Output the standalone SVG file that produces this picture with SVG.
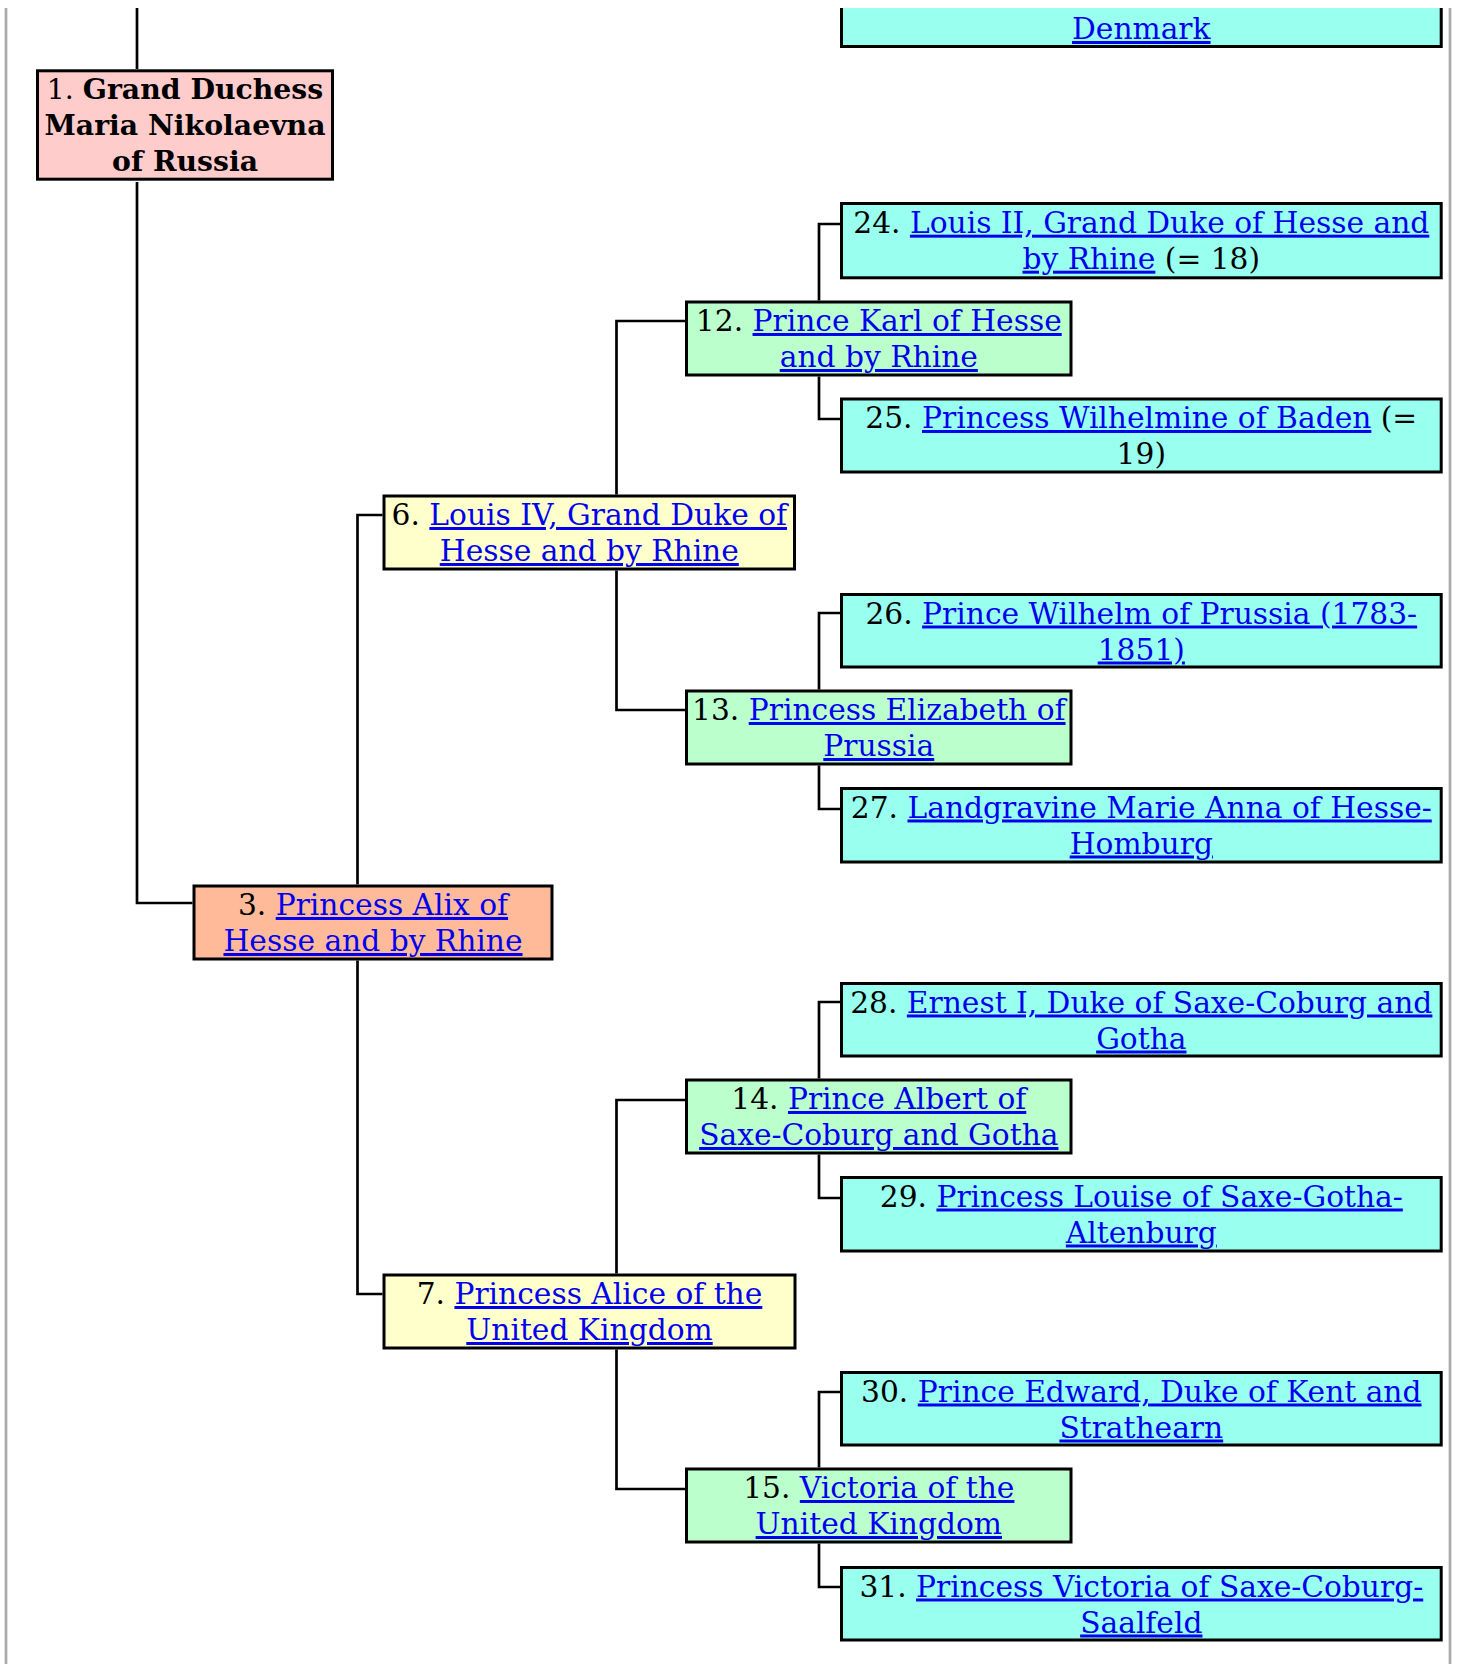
<svg xmlns="http://www.w3.org/2000/svg" width="1458" height="1664" viewBox="0 0 1458 1664">
<style>
.bx{stroke:#000;stroke-width:3}
.c1{fill:#fcc}.c2{fill:#fb9}.c3{fill:#ffc}.c4{fill:#bfc}.c5{fill:#9fe}
.t{font-family:"DejaVu Serif",serif;font-size:29.7px;text-anchor:middle;fill:#000}
.h{font-size:28.3px}
.a{fill:#0000ee;text-decoration:underline}
.b{font-weight:bold}
.ln{fill:none;stroke:#000;stroke-width:2.7}
.frame{stroke:#aaa;stroke-width:2.7}
</style>
<rect width="1458" height="1664" fill="#fff"/>
<line class="frame" x1="6" y1="8" x2="6" y2="1664"/>
<line class="frame" x1="1450" y1="8" x2="1450" y2="1664"/>
<g id="connectors">
<path class="ln" d="M137 8V69M137 182V903H192.5"/>
<path class="ln" d="M382.5 515H357.5V884.5M357.5 960.5V1294H382.5"/>
<path class="ln" d="M685 321H616.5V494.5M616.5 570.5V710H685"/>
<path class="ln" d="M685 1100H616.5V1273.5M616.5 1349.5V1489H685"/>
<path class="ln" d="M840 224H819V300.5M819 376.5V419H840"/>
<path class="ln" d="M840 613H819V689.5M819 765.5V809H840"/>
<path class="ln" d="M840 1002H819V1078.5M819 1154.5V1198H840"/>
<path class="ln" d="M840 1392H819V1467.5M819 1543.5V1587H840"/>
</g>
<g id="n23">
<rect class="c5" x="840" y="8" width="602.7" height="40"/>
<path class="ln" style="stroke-width:3" d="M841.5 8V46.5H1441.2V8"/>
<text class="t" x="1141.3" y="39"><tspan class="a">Denmark</tspan></text>
</g>
<g id="n1">
<rect class="bx c1" x="37.5" y="70.8" width="295" height="108.4"/>
<text class="t h" x="185" y="99.3">1. <tspan class="b">Grand Duchess</tspan></text>
<text class="t h b" x="185" y="135.3">Maria Nikolaevna</text>
<text class="t h b" x="185" y="171">of Russia</text>
</g>
<g id="n24">
<rect class="bx c5" x="841.5" y="203.5" width="599.7" height="74.3"/>
<text class="t" x="1141.3" y="232.7">24. <tspan class="a">Louis II, Grand Duke of Hesse and</tspan></text>
<text class="t" x="1141.3" y="268.7"><tspan class="a">by Rhine</tspan> (= 18)</text>
</g>
<g id="n12">
<rect class="bx c4" x="686.5" y="302" width="384.5" height="73"/>
<text class="t" x="878.8" y="331">12. <tspan class="a">Prince Karl of Hesse</tspan></text>
<text class="t" x="878.8" y="367"><tspan class="a">and by Rhine</tspan></text>
</g>
<g id="n25">
<rect class="bx c5" x="841.5" y="399" width="599.7" height="73"/>
<text class="t" x="1141.3" y="428">25. <tspan class="a">Princess Wilhelmine of Baden</tspan> (=</text>
<text class="t" x="1141.3" y="464">19)</text>
</g>
<g id="n6">
<rect class="bx c3" x="384" y="496" width="410.5" height="73"/>
<text class="t" x="589.3" y="525">6. <tspan class="a">Louis IV, Grand Duke of</tspan></text>
<text class="t" x="589.3" y="561"><tspan class="a">Hesse and by Rhine</tspan></text>
</g>
<g id="n26">
<rect class="bx c5" x="841.5" y="594.5" width="599.7" height="72.5"/>
<text class="t" x="1141.3" y="623.5">26. <tspan class="a">Prince Wilhelm of Prussia (1783-</tspan></text>
<text class="t" x="1141.3" y="659.5"><tspan class="a">1851)</tspan></text>
</g>
<g id="n13">
<rect class="bx c4" x="686.5" y="691" width="384.5" height="73"/>
<text class="t" x="878.8" y="720">13. <tspan class="a">Princess Elizabeth of</tspan></text>
<text class="t" x="878.8" y="756"><tspan class="a">Prussia</tspan></text>
</g>
<g id="n27">
<rect class="bx c5" x="841.5" y="788.5" width="599.7" height="73.5"/>
<text class="t" x="1141.3" y="817.5">27. <tspan class="a">Landgravine Marie Anna of Hesse-</tspan></text>
<text class="t" x="1141.3" y="853.5"><tspan class="a">Homburg</tspan></text>
</g>
<g id="n3">
<rect class="bx c2" x="194" y="886" width="358" height="73"/>
<text class="t" x="373" y="915">3. <tspan class="a">Princess Alix of</tspan></text>
<text class="t" x="373" y="951"><tspan class="a">Hesse and by Rhine</tspan></text>
</g>
<g id="n28">
<rect class="bx c5" x="841.5" y="983.5" width="599.7" height="72.5"/>
<text class="t" x="1141.3" y="1012.5">28. <tspan class="a">Ernest I, Duke of Saxe-Coburg and</tspan></text>
<text class="t" x="1141.3" y="1048.5"><tspan class="a">Gotha</tspan></text>
</g>
<g id="n14">
<rect class="bx c4" x="686.5" y="1080" width="384.5" height="73"/>
<text class="t" x="878.8" y="1109">14. <tspan class="a">Prince Albert of</tspan></text>
<text class="t" x="878.8" y="1145"><tspan class="a">Saxe-Coburg and Gotha</tspan></text>
</g>
<g id="n29">
<rect class="bx c5" x="841.5" y="1177.5" width="599.7" height="73.5"/>
<text class="t" x="1141.3" y="1206.5">29. <tspan class="a">Princess Louise of Saxe-Gotha-</tspan></text>
<text class="t" x="1141.3" y="1242.5"><tspan class="a">Altenburg</tspan></text>
</g>
<g id="n7">
<rect class="bx c3" x="384" y="1275" width="411" height="73"/>
<text class="t" x="589.5" y="1304">7. <tspan class="a">Princess Alice of the</tspan></text>
<text class="t" x="589.5" y="1340"><tspan class="a">United Kingdom</tspan></text>
</g>
<g id="n30">
<rect class="bx c5" x="841.5" y="1372.5" width="599.7" height="72.5"/>
<text class="t" x="1141.3" y="1401.5">30. <tspan class="a">Prince Edward, Duke of Kent and</tspan></text>
<text class="t" x="1141.3" y="1437.5"><tspan class="a">Strathearn</tspan></text>
</g>
<g id="n15">
<rect class="bx c4" x="686.5" y="1469" width="384.5" height="73"/>
<text class="t" x="878.8" y="1498">15. <tspan class="a">Victoria of the</tspan></text>
<text class="t" x="878.8" y="1534"><tspan class="a">United Kingdom</tspan></text>
</g>
<g id="n31">
<rect class="bx c5" x="841.5" y="1567.5" width="599.7" height="72.5"/>
<text class="t" x="1141.3" y="1596.5">31. <tspan class="a">Princess Victoria of Saxe-Coburg-</tspan></text>
<text class="t" x="1141.3" y="1632.5"><tspan class="a">Saalfeld</tspan></text>
</g>
</svg>
